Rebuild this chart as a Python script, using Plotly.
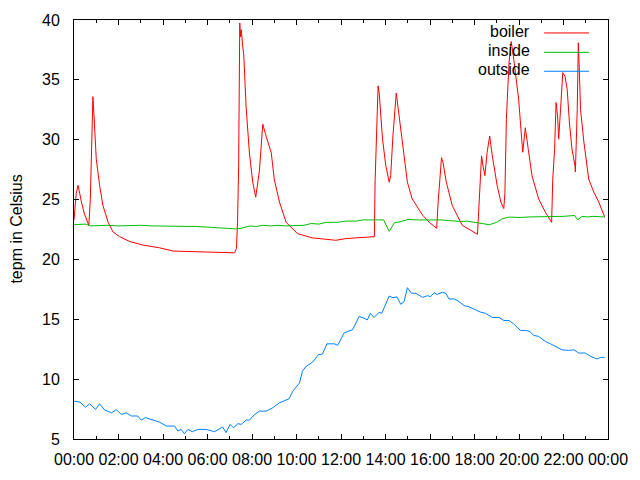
import plotly.graph_objects as go

DAY = "2013-01-01 "
X_END = "2013-01-02 00:00"

boiler_t = ["00:00","00:06","00:11","00:14","00:20","00:28","00:36","00:40","00:44","00:48","00:51","00:54",
            "01:00","01:09","01:18","01:32","01:45","02:03","02:30","03:06","03:51","04:27","05:38","06:23",
            "07:13","07:18","07:21","07:24","07:27","07:29","07:31","07:34","07:38","07:44","07:53","08:02",
            "08:10","08:20","08:29","08:38","08:52","09:00","09:14","09:32","10:03","10:43","11:46","12:13",
            "12:58","13:30","13:32","13:36","13:40","13:43","13:52","14:01","14:10","14:14","14:20","14:29",
            "14:37","14:46","14:59","15:12","15:30","15:40","15:58","16:18","16:22","16:31","16:35","16:44",
            "17:00","17:27","18:08","18:12","18:19","18:23","18:28","18:34","18:41","18:48","19:01","19:11",
            "19:19","19:22","19:26","19:33","19:39","19:46","19:59","20:10","20:17","20:25","20:35","20:53",
            "21:11","21:28","21:31","21:36","21:40","21:44","21:47","21:52","21:58","22:04","22:10","22:16",
            "22:23","22:31","22:32","22:37","22:40","22:42","22:46","22:55","23:08","23:22","23:35","23:51"]
boiler_v = [23.3,25.5,26.2,25.6,24.8,23.8,23.1,22.85,25.0,30.0,33.6,32.0,
            28.4,26.2,24.5,23.1,22.3,21.9,21.5,21.2,20.97,20.7,20.63,20.55,
            20.55,20.9,23.1,27.8,39.75,38.6,39.2,38.1,37.0,32.8,28.9,26.45,
            25.2,27.4,31.3,30.3,28.9,26.7,24.8,23.1,22.15,21.8,21.6,21.74,
            21.85,21.9,26.6,29.8,34.5,33.9,30.05,27.8,26.45,27.0,30.3,33.9,
            32.0,29.5,26.45,25.05,24.2,23.7,23.1,22.6,24.8,28.5,28.1,26.45,
            24.5,22.85,22.1,24.5,28.65,27.8,27.0,28.95,30.3,28.65,26.2,24.8,
            24.25,25.6,31.7,36.4,38.2,36.7,33.4,28.95,31.0,29.2,27.0,25.05,
            23.95,23.1,26.7,29.2,33.1,32.0,30.05,32.5,35.6,35.3,34.2,31.4,
            29.2,27.8,27.3,32.5,38.1,36.4,32.5,29.8,26.7,25.6,24.8,23.55]

inside_t = ["00:00","00:15","00:30","00:45","01:10","01:30","02:00","02:30","03:00","03:30","04:00","04:30",
            "05:00","05:30","06:00","06:20","06:40","07:15","07:30","07:45","07:55","08:10","08:30","08:50",
            "09:10","09:30","10:00","10:20","10:40","11:00","11:20","11:50","12:15","12:40","13:00","13:30",
            "13:55","14:10","14:24","14:40","15:00","15:30","16:00","16:30","16:50","17:20","17:40","18:00",
            "18:20","18:40","19:00","19:15","19:35","20:00","20:30","21:00","21:30","22:00","22:30","22:38",
            "22:50","23:05","23:20","23:51"]
inside_v = [22.9,22.95,22.95,22.8,22.85,22.85,22.8,22.85,22.85,22.8,22.8,22.8,
            22.8,22.75,22.7,22.65,22.6,22.55,22.6,22.75,22.8,22.75,22.85,22.8,
            22.85,22.8,22.85,22.85,23.0,22.95,23.1,23.1,23.2,23.2,23.3,23.33,
            23.3,22.35,23.06,23.15,23.33,23.3,23.33,23.3,23.25,23.17,23.2,23.1,
            23.05,22.9,23.1,23.4,23.54,23.5,23.55,23.55,23.6,23.6,23.67,23.3,
            23.6,23.55,23.6,23.54]

outside_t = ["00:00","00:16","00:31","00:42","00:58","01:09","01:23","01:41","01:54","02:08","02:21","02:35",
             "02:52","03:01","03:13","03:33","03:50","04:09","04:31","04:40","04:49","04:58","05:07","05:19",
             "05:34","05:56","06:19","06:41","06:50","07:01","07:10","07:22","07:31","07:44","07:53","08:07",
             "08:20","08:38","08:56","09:14","09:32","09:40","09:50","10:08","10:16","10:26","10:43","10:59",
             "11:10","11:22","11:42","11:51","12:08","12:17","12:31","12:49","13:02","13:11","13:19","13:29",
             "13:43","13:50","14:10","14:20","14:31","14:41","14:50","14:59","15:10","15:22","15:40","15:53",
             "16:02","16:11","16:20","16:33","16:43","16:51","17:05","17:16","17:32","17:45","18:03","18:17",
             "18:30","18:48","19:06","19:19","19:33","19:46","20:04","20:18","20:29","20:40","20:53","21:11",
             "21:25","21:38","21:56","22:14","22:28","22:41","22:59","23:13","23:31","23:40","23:51"]
outside_v = [8.16,8.08,7.66,7.94,7.47,7.94,7.41,7.19,7.44,7.05,7.19,6.92,
             6.92,6.58,6.78,6.55,6.42,6.08,6.08,5.67,5.8,5.44,5.8,5.61,
             5.8,5.8,5.61,6.0,5.53,6.22,5.94,6.28,6.22,6.58,6.58,7.05,
             7.33,7.33,7.61,8.02,8.3,8.36,8.99,9.68,10.66,11.07,11.4,12.04,
             12.1,12.95,12.95,12.82,13.84,13.98,14.12,15.23,15.09,14.95,15.5,15.15,
             15.59,15.5,16.94,16.8,16.87,16.25,16.47,17.64,17.17,17.17,16.83,16.97,
             16.9,17.22,17.08,17.25,17.17,16.7,16.7,16.53,16.14,16.05,15.78,15.59,
             15.5,15.15,15.15,14.9,14.9,14.6,14.07,14.07,13.98,13.65,13.57,13.15,
             12.95,12.73,12.45,12.4,12.45,12.18,12.18,11.9,11.68,11.82,11.82]

series_names = ["boiler", "inside", "outside"]
series_colors = ["#ff0000", "#00c000", "#0080ff"]
series = [(boiler_t, boiler_v), (inside_t, inside_v), (outside_t, outside_v)]

FONT = "Liberation Sans, Arial, sans-serif"
FS = 16

fig = go.Figure()
for name, color, (ts, vs) in zip(series_names, series_colors, series):
    fig.add_trace(go.Scatter(x=[DAY + t for t in ts], y=vs, mode="lines", name=name,
                             line=dict(color=color, width=1), showlegend=False))

# plot area in pixels: x 74..609, y 20..441
L, R, T, B = 74, 609, 20, 441
W, H = R - L, B - T
def px(x): return (x - L) / W
def py(y): return 1 - (y - T) / H

legend_y = [31.5, 51, 70]
for name, color, yy in zip(series_names, series_colors, legend_y):
    fig.add_annotation(x=px(533), y=py(yy), xref="paper", yref="paper", text=name, showarrow=False,
                       xanchor="right", yanchor="middle", font=dict(family=FONT, size=FS, color="#000"))
    fig.add_shape(type="line", xref="paper", yref="paper", x0=px(545), x1=px(590), y0=py(yy + 1.5),
                  y1=py(yy + 1.5), line=dict(color=color, width=1))

fig.add_annotation(x=px(16), y=0.5, xref="paper", yref="paper", text="tepm in Celsius", showarrow=False,
                   textangle=-90, xanchor="center", yanchor="middle",
                   font=dict(family=FONT, size=FS, color="#000"))

fig.update_layout(
    width=640, height=480,
    margin=dict(l=L, r=640 - R, t=T, b=480 - B),
    paper_bgcolor="white", plot_bgcolor="white",
    font=dict(family=FONT, size=FS, color="#000"),
)
fig.update_xaxes(
    type="date", range=[DAY + "00:00", X_END], tickformat="%H:%M", dtick=7200000,
    tick0=DAY + "00:00", ticks="inside", ticklen=5, tickcolor="#000", showgrid=False,
    showline=True, linecolor="#000", linewidth=1, mirror="allticks", zeroline=False,
    minor=dict(ticks="inside", ticklen=3, dtick=3600000, tickcolor="#000", showgrid=False),
    ticklabelstandoff=6,
)
fig.update_yaxes(
    range=[5, 40], dtick=5, ticks="inside", ticklen=5, tickcolor="#000", showgrid=False,
    showline=True, linecolor="#000", linewidth=1, mirror="allticks", zeroline=False,
    ticklabelstandoff=10,
)

fig.write_html("out.html")
